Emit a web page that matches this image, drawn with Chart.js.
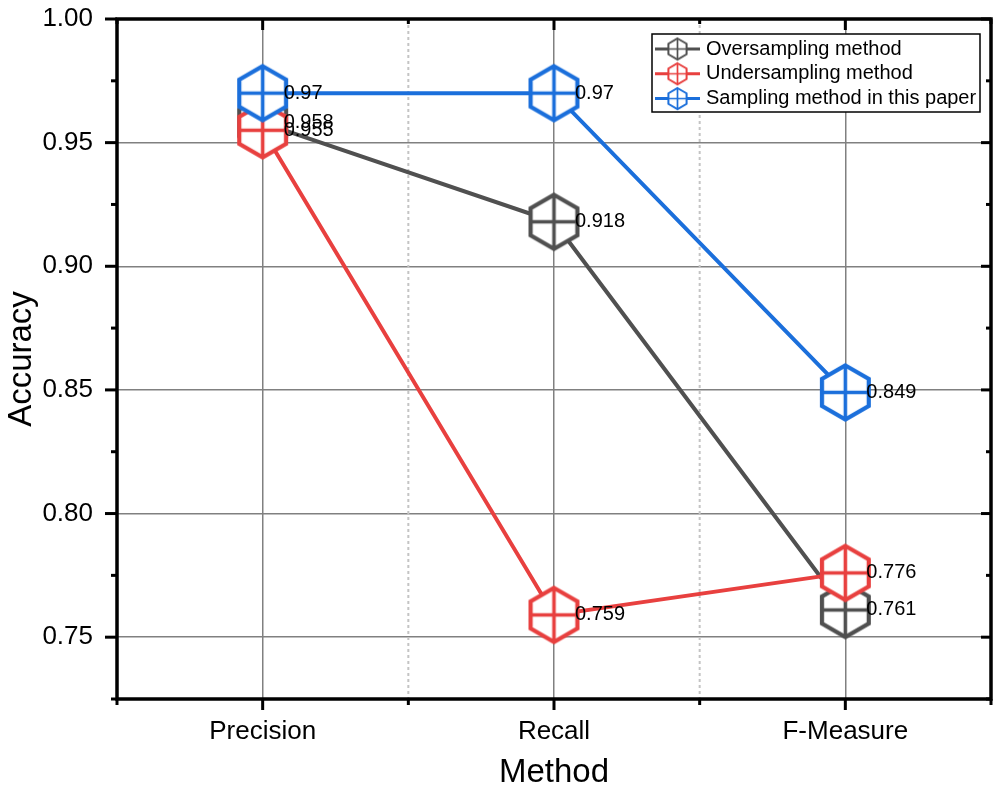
<!DOCTYPE html>
<html>
<head>
<meta charset="utf-8">
<script src="https://cdn.jsdelivr.net/npm/chart.js@4.4.0/dist/chart.umd.min.js"></script>
<style>
  html, body { margin: 0; padding: 0; background: #fff; }
  #wrap { width: 996px; height: 796px; }
</style>
</head>
<body>
<div id="wrap"><canvas id="chart"></canvas></div>
<script>
const categories = ['Precision', 'Recall', 'F-Measure'];
const oversampling = [0.958, 0.918, 0.761];
const undersampling = [0.955, 0.759, 0.776];
const ourMethod = [0.97, 0.97, 0.849];
const seriesNames = ['Oversampling method', 'Undersampling method', 'Sampling method in this paper'];
const yMajorTicks = [0.75, 0.80, 0.85, 0.90, 0.95, 1.00];
const yMinorTicks = [0.725, 0.775, 0.825, 0.875, 0.925, 0.975];
const xBoundaries = [-0.5, 0.5, 1.5, 2.5];

const FONT = 'Liberation Sans, Arial, sans-serif';
const colors = ['#505050', '#e8403f', '#1b6fdb'];

// hexagon with a cross inside, used as point style
function hexMarker(color, r, lw) {
  const size = Math.ceil(2 * r + lw + 2);
  const c = document.createElement('canvas');
  c.width = size; c.height = size;
  const g = c.getContext('2d');
  const cx = size / 2, cy = size / 2;
  const hw = r * Math.cos(Math.PI / 6);
  g.beginPath();
  for (let k = 0; k < 6; k++) {
    const a = -Math.PI / 2 + k * Math.PI / 3;
    g.lineTo(cx + r * Math.cos(a), cy + r * Math.sin(a));
  }
  g.closePath();
  g.fillStyle = '#fff';
  g.fill();
  g.strokeStyle = color;
  g.lineWidth = lw;
  g.lineJoin = 'miter';
  g.stroke();
  g.beginPath();
  g.moveTo(cx, cy - r); g.lineTo(cx, cy + r);
  g.moveTo(cx - hw, cy); g.lineTo(cx + hw, cy);
  g.lineWidth = lw * 0.85;
  g.stroke();
  return c;
}

const bigHex = colors.map(c => hexMarker(c, 27, 4.2));
const smallHex = colors.map(c => hexMarker(c, 10.5, 2));

function seg(ctx, x1, y1, x2, y2) {
  ctx.beginPath(); ctx.moveTo(x1, y1); ctx.lineTo(x2, y2); ctx.stroke();
}

function noPadding(s) {
  s.paddingTop = 0; s.paddingBottom = 0; s.paddingLeft = 0; s.paddingRight = 0;
}

const frame = {
  id: 'frame',
  beforeDatasetsDraw(chart) {
    const { ctx, chartArea: a, scales: { x } } = chart;
    ctx.save();
    ctx.strokeStyle = '#c4c4c4';
    ctx.lineWidth = 2;
    ctx.setLineDash([3, 3]);
    xBoundaries.slice(1).forEach(v => {
      const px = x.getPixelForValue(v);
      seg(ctx, px, a.top, px, a.bottom);
    });
    ctx.restore();
  },
  afterDatasetsDraw(chart) {
    const { ctx } = chart;
    ctx.save();
    ctx.font = '20px ' + FONT;
    ctx.fillStyle = '#000';
    ctx.textBaseline = 'middle';
    chart.data.datasets.forEach((ds, i) => {
      chart.getDatasetMeta(i).data.forEach((pt, j) => {
        ctx.fillText(String(ds.data[j]), pt.x + 21, pt.y);
      });
    });
    ctx.restore();
  },
  afterDraw(chart) {
    const { ctx, chartArea: a, scales: { x, y } } = chart;
    ctx.save();
    ctx.strokeStyle = '#000';
    ctx.lineWidth = 3.5;
    ctx.strokeRect(a.left, a.top, a.right - a.left, a.bottom - a.top);

    ctx.lineWidth = 3;
    yMajorTicks.forEach(v => {
      const py = y.getPixelForValue(v);
      seg(ctx, a.left - 12, py, a.left, py);
      seg(ctx, a.right - 10, py, a.right, py);
    });
    yMinorTicks.forEach(v => {
      const py = y.getPixelForValue(v);
      seg(ctx, a.left - 6, py, a.left, py);
      seg(ctx, a.right - 5, py, a.right, py);
    });
    categories.forEach((c, i) => {
      const px = x.getPixelForValue(i);
      seg(ctx, px, a.bottom, px, a.bottom + 11);
      seg(ctx, px, a.top, px, a.top + 11);
    });
    xBoundaries.forEach(v => {
      const px = x.getPixelForValue(v);
      seg(ctx, px, a.bottom, px, a.bottom + 6);
      seg(ctx, px, a.top, px, a.top + 5);
    });

    // legend
    const lw = 328, lh = 78;
    const lx = a.right - 11 - lw, ly = a.top + 15;
    ctx.fillStyle = '#fff';
    ctx.fillRect(lx, ly, lw, lh);
    ctx.lineWidth = 1.5;
    ctx.strokeRect(lx, ly, lw, lh);
    ctx.font = '20px ' + FONT;
    ctx.textBaseline = 'middle';
    chart.data.datasets.forEach((ds, i) => {
      const cy = ly + 15 + i * 24.8;
      ctx.strokeStyle = ds.borderColor;
      ctx.lineWidth = 3;
      seg(ctx, lx + 3, cy, lx + 48, cy);
      const img = smallHex[i];
      ctx.drawImage(img, lx + 25.5 - img.width / 2, cy - img.height / 2);
      ctx.fillStyle = '#000';
      ctx.fillText(ds.label, lx + 54, cy);
    });
    ctx.restore();
  }
};

const seriesData = [oversampling, undersampling, ourMethod];

new Chart(document.getElementById('chart').getContext('2d'), {
  type: 'line',
  data: {
    labels: categories,
    datasets: seriesData.map((d, i) => ({
      label: seriesNames[i],
      data: d,
      borderColor: colors[i],
      backgroundColor: colors[i],
      borderWidth: 4,
      tension: 0,
      pointStyle: bigHex[i],
      pointRadius: 28,
      order: 3 - i
    }))
  },
  options: {
    responsive: true,
    maintainAspectRatio: false,
    animation: false,
    events: [],
    layout: { autoPadding: false, padding: { top: 19, right: 5, left: 0, bottom: 0 } },
    plugins: { legend: { display: false }, tooltip: { enabled: false } },
    scales: {
      x: {
        type: 'category',
        offset: true,
        grid: { offset: false, color: '#808080', lineWidth: 1.5, drawTicks: false },
        border: { display: false },
        ticks: { color: '#000', font: { family: FONT, size: 26 }, padding: 17 },
        title: { display: true, text: 'Method', color: '#000', font: { family: FONT, size: 33 }, padding: 3 },
        afterFit(s) { s.height = 97; noPadding(s); }
      },
      y: {
        min: 0.725,
        max: 1.0,
        afterBuildTicks(s) { s.ticks = yMajorTicks.map(value => ({ value })); },
        grid: { color: '#808080', lineWidth: 1.5, drawTicks: false },
        border: { display: false },
        ticks: {
          color: '#000',
          font: { family: FONT, size: 26 },
          padding: 24,
          callback: v => Number(v).toFixed(2)
        },
        title: { display: true, text: 'Accuracy', color: '#000', font: { family: FONT, size: 33 }, padding: 2 },
        afterFit(s) { s.width = 117; noPadding(s); }
      }
    }
  },
  plugins: [frame]
});
</script>
</body>
</html>
